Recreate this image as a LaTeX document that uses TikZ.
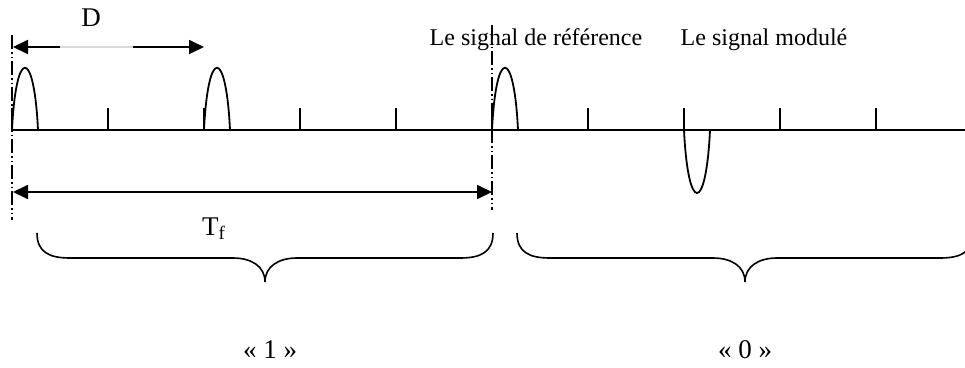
\documentclass[tikz,border=0pt]{standalone}
\usepackage{fontspec}
\setmainfont{Liberation Serif}
\usetikzlibrary{arrows.meta}

% curly brace hanging below a frame: left end, right end
\newcommand{\accolade}[2]{%
  \draw[curly] (#1,233) .. controls (#1,252) and (#1+12,258) .. (#1+33,258)
    -- ({(#1+#2)/2-32},258) .. controls ({(#1+#2)/2-14},258) and ({(#1+#2)/2},266) .. ({(#1+#2)/2},282)
    .. controls ({(#1+#2)/2},266) and ({(#1+#2)/2+14},258) .. ({(#1+#2)/2+32},258)
    -- (#2-33,258) .. controls (#2-12,258) and (#2,252) .. (#2,233);}

\begin{document}
\begin{tikzpicture}[x=1pt, y=-1pt,
  % signal lines
  axis/.style={line width=1.8pt},
  tick/.style={line width=2.6pt},
  pulse/.style={line width=1.8pt},
  % frame limits: dash dot dot
  guide/.style={line width=1.3pt, dash pattern=on 14pt off 3pt on 1.5pt off 3pt on 1.5pt off 3pt},
  dimarrow/.style={line width=1.8pt, {Triangle[length=15pt,width=14pt]}-{Triangle[length=15pt,width=14pt]}},
  curly/.style={line width=1.6pt},
  bigtxt/.style={anchor=base, inner sep=0pt, font=\fontsize{27}{30}\selectfont},
  smalltxt/.style={anchor=base, inner sep=0pt, font=\fontsize{24}{28}\selectfont}
]
  \useasboundingbox (0,0) rectangle (965,367);

  % Time axis with ticks
  \coordinate (axL) at (12,130);
  \coordinate (axR) at (965,130);
  \draw[axis] (axL) -- (axR);
  \foreach \x in {12,108,...,876}
    \draw[tick] (\x,130) -- (\x,108);

  % Pulses: two in frame "1", reference and inverted one in frame "0"
  \foreach \x in {12,204,492}
    \draw[pulse] (\x,130) .. controls (\x+4,47) and (\x+22,47) .. (\x+26,130);
  \draw[pulse] (684,130) .. controls (688,214) and (706,214) .. (710,130);

  % Frame limits
  \coordinate (g1t) at (12,35);
  \coordinate (g1b) at (12,220);
  \coordinate (g2t) at (492,25);
  \coordinate (g2b) at (492,210);
  \draw[guide] (g1t) -- (g1b);
  \draw[guide] (g2t) -- (g2b);

  % Distance D
  \coordinate (dL) at (13,47);
  \coordinate (dR) at (204,47);
  \coordinate (dgL) at (60,47);
  \coordinate (dgR) at (133,47);
  \draw[dimarrow] (dL) -- (dR);
  \draw[line width=1.8pt, gray!30] (dgL) -- (dgR);
  \node[bigtxt] (lblD) at (91,26) {D};

  % Frame duration Tf
  \coordinate (tL) at (13,192);
  \coordinate (tR) at (492,192);
  \draw[dimarrow] (tL) -- (tR);
  \node[bigtxt, anchor=base west] (lblTf) at (202,235) {T\textsubscript{f}};

  % Captions
  \node[smalltxt] (lblRef) at (536,45) {Le signal de référence};
  \node[smalltxt] (lblMod) at (764,45) {Le signal modulé};

  % Braces and bit values
  \accolade{37}{493}
  \accolade{517}{973}
  \node[bigtxt] (lblUn) at (270,358) {« 1 »};
  \node[bigtxt] (lblZero) at (745,358) {« 0 »};
\end{tikzpicture}
\end{document}
